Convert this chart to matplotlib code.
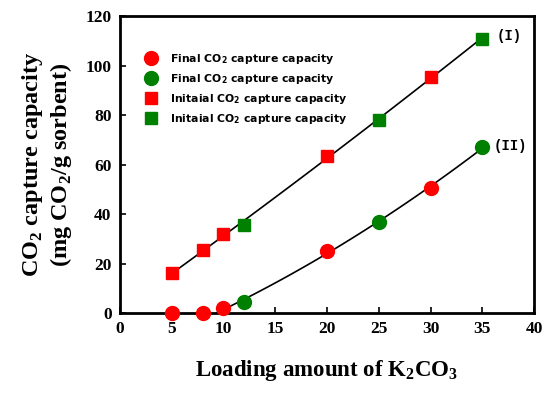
import numpy as np
import matplotlib
matplotlib.use("Agg")
import matplotlib.pyplot as plt

plt.rcParams['mathtext.fontset'] = 'custom'
plt.rcParams['mathtext.rm'] = 'Liberation Serif:bold'
plt.rcParams['mathtext.sf'] = 'DejaVu Sans:bold'

# final capacity (circles)
final_red_x = [5, 8, 10, 20, 30]
final_red_y = [0, 0, 2, 25, 50.5]
final_green_x = [12, 25, 35]
final_green_y = [4.5, 37, 67]

# initial capacity (squares)
init_red_x = [5, 8, 10, 20, 30]
init_red_y = [16, 25.5, 32, 63.5, 95.5]
init_green_x = [12, 25, 35]
init_green_y = [35.5, 78, 111]

red = '#ff0000'
green = '#008000'

fig = plt.figure(figsize=(5.5, 3.94), dpi=100)
ax = fig.add_axes([0.218, 0.2056, 0.753, 0.753])

# fitted curves
sq_x = np.array(init_red_x + init_green_x)
sq_y = np.array(init_red_y + init_green_y)
p1 = np.polyfit(sq_x, sq_y, 2)
xs1 = np.linspace(5, 35, 100)
ax.plot(xs1, np.polyval(p1, xs1), color='black', lw=1.2, zorder=1)

ci_x = np.array(final_red_x[2:] + final_green_x)
ci_y = np.array(final_red_y[2:] + final_green_y)
p2 = np.polyfit(ci_x, ci_y, 2)
roots = [r.real for r in np.roots(p2) if 0 < r.real < 10]
x0 = max(roots) if roots else 8.5
xs2 = np.linspace(x0, 35, 100)
ax.plot(xs2, np.polyval(p2, xs2), color='black', lw=1.2, zorder=1)

ms = 10
ax.plot(final_red_x, final_red_y, 'o', color=red, ms=ms, clip_on=False,
        label=r'Final CO$_\mathsf{2}$ capture capacity', zorder=3)
ax.plot(final_green_x, final_green_y, 'o', color=green, ms=ms, clip_on=False,
        label=r'Final CO$_\mathsf{2}$ capture capacity', zorder=3)
ax.plot(init_red_x, init_red_y, 's', color=red, ms=ms - 1, clip_on=False,
        label=r'Initaial CO$_\mathsf{2}$ capture capacity', zorder=3)
ax.plot(init_green_x, init_green_y, 's', color=green, ms=ms - 1, clip_on=False,
        label=r'Initaial CO$_\mathsf{2}$ capture capacity', zorder=3)

ax.text(37.6, 112, '(I)', family='Liberation Mono', fontweight='bold', fontsize=10,
        ha='center', va='center')
ax.text(37.7, 67.5, '(II)', family='Liberation Mono', fontweight='bold', fontsize=10,
        ha='center', va='center')

leg = ax.legend(loc='upper left', bbox_to_anchor=(0.037, 0.905), frameon=False,
                prop={'family': 'DejaVu Sans', 'weight': 'bold', 'size': 7.8},
                handletextpad=0.9, labelspacing=0.55, borderaxespad=0.3,
                handlelength=1.6)

ax.set_xlim(0, 40)
ax.set_ylim(0, 120)
ax.set_xticks(range(0, 41, 5))
ax.set_yticks(range(0, 121, 20))
ax.tick_params(direction='in', length=4, width=1.2, top=False, right=False, pad=6)
for lab in ax.get_xticklabels() + ax.get_yticklabels():
    lab.set_family('Liberation Serif')
    lab.set_fontweight('bold')
    lab.set_fontsize(12.5)
for s in ax.spines.values():
    s.set_linewidth(2)

ax.set_xlabel(r'Loading amount of K$_2$CO$_3$', family='Liberation Serif',
              fontweight='bold', fontsize=16.5, labelpad=15)
ax.set_ylabel('CO$_2$ capture capacity\n(mg CO$_2$/g sorbent)', family='Liberation Serif',
              fontweight='bold', fontsize=17.5, labelpad=8, linespacing=1.2)

fig.savefig('out.png', dpi=100)
